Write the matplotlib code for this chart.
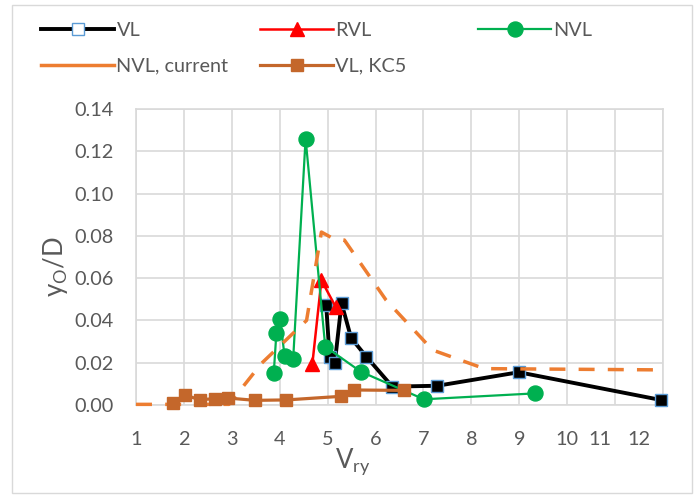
import matplotlib
matplotlib.use("Agg")
import matplotlib.pyplot as plt
from matplotlib.lines import Line2D
from matplotlib.patches import Rectangle

# ---- data ----
vl_x = [4.97, 5.04, 5.15, 5.29, 5.49, 5.81, 6.35, 7.29, 8.99, 11.95]
vl_y = [0.0473, 0.0228, 0.0199, 0.0482, 0.0317, 0.0228, 0.0087, 0.0091, 0.0155, 0.0024]

rvl_x = [4.68, 4.87, 5.17]
rvl_y = [0.0192, 0.0590, 0.0463]

nvl_x = [3.875, 3.93, 4.01, 4.10, 4.28, 4.54, 4.95, 5.69, 7.01, 9.33]
nvl_y = [0.0150, 0.0339, 0.0405, 0.0233, 0.0216, 0.1260, 0.0276, 0.0158, 0.0027, 0.0055]

cur_x = [1.0, 2.94, 3.62, 4.56, 4.87, 5.11, 5.35, 6.22, 7.19, 8.27, 12.0]
cur_y = [0.0003, 0.0003, 0.0197, 0.0400, 0.0818, 0.0788, 0.0780, 0.0496, 0.0260, 0.0172, 0.0166]

kc5_x = [1.78, 2.02, 2.33, 2.65, 2.92, 3.48, 4.14, 5.28, 5.56, 6.60]
kc5_y = [0.0008, 0.0047, 0.0025, 0.0030, 0.0033, 0.0022, 0.0024, 0.0041, 0.0071, 0.0069]

x_ticks = list(range(1, 13))
x_labels = [str(t) for t in x_ticks]
y_ticks = [0.00, 0.02, 0.04, 0.06, 0.08, 0.10, 0.12, 0.14]
y_labels = ["%.2f" % t for t in y_ticks]

FONT = "Lato"
plt.rcParams["font.family"] = [FONT, "DejaVu Sans"]
plt.rcParams["mathtext.fontset"] = "custom"
plt.rcParams["mathtext.rm"] = FONT
plt.rcParams["mathtext.it"] = FONT + ":italic"

TXT = "#595959"
GRID = "#D9D9D9"
C_VL = "#000000"
C_VLE = "#5B9BD5"
C_RVL = "#FF0000"
C_NVL = "#00B050"
C_CUR = "#ED7D31"
C_KC5 = "#C4672B"
FS = 14.3

W, H = 699, 495
fig = plt.figure(figsize=(W / 100, H / 100), dpi=100)
ax = fig.add_axes([136 / W, 1 - 405 / H, (663 - 136) / W, (405 - 109) / H])

ax.plot(vl_x, vl_y, color=C_VL, lw=2.8, marker="s", ms=8.8, mfc="black",
        mec=C_VLE, mew=1.0, zorder=3, clip_on=False)
ax.plot(rvl_x, rvl_y, color=C_RVL, lw=1.8, marker="^", ms=10.5, mfc=C_RVL,
        mec=C_RVL, zorder=4, clip_on=False)
ax.plot(nvl_x, nvl_y, color=C_NVL, lw=1.6, marker="o", ms=10.8, mfc=C_NVL,
        mec=C_NVL, zorder=5, clip_on=False)
ax.plot(cur_x, cur_y, color=C_CUR, lw=2.5, ls=(0, (4.6, 3.8)), zorder=6,
        clip_on=False)
ax.plot(kc5_x, kc5_y, color=C_KC5, lw=2.3, marker="s", ms=9, mfc=C_KC5,
        mec=C_KC5, zorder=7, clip_on=False)

ax.set_xlim(1, 12)
ax.set_ylim(0, 0.14)
ax.set_xticks(x_ticks)
ax.set_xticklabels(x_labels[:10] + ["", ""])
ax.set_yticks(y_ticks)
ax.set_yticklabels(y_labels)
ax.tick_params(axis="both", length=0, colors=TXT, labelsize=FS)
ax.tick_params(axis="x", pad=19)
ax.tick_params(axis="y", pad=16)
# the last two x labels sit left of their grid lines in the reference
for lab, xpos in ((x_labels[10], 10.68), (x_labels[11], 11.5)):
    ax.text(xpos, -0.089, lab, transform=ax.get_xaxis_transform(),
            ha="center", va="top", fontsize=FS, color=TXT)

ax.grid(True, color=GRID, lw=1.2)
ax.set_axisbelow(True)
for s in ax.spines.values():
    s.set_color(GRID)
    s.set_linewidth(1.2)

fig.text(353 / W, 1 - 462 / H, r"$\mathregular{V_{ry}}$", ha="center",
         va="center", fontsize=18.5, color=TXT)
fig.text(55 / W, 1 - 267 / H, r"$\mathregular{y_{O}/D}$", ha="center",
         va="center", fontsize=18.5, color=TXT, rotation=90)

# legend, three columns placed individually
h_vl = Line2D([], [], color=C_VL, lw=2.8, marker="s", ms=8.8, mfc="white",
              mec=C_VLE, mew=1.0)
h_rvl = Line2D([], [], color=C_RVL, lw=1.8, marker="^", ms=10.5, mfc=C_RVL, mec=C_RVL)
h_nvl = Line2D([], [], color=C_NVL, lw=1.6, marker="o", ms=10.8, mfc=C_NVL, mec=C_NVL)
h_cur = Line2D([], [], color=C_CUR, lw=2.5)
h_kc5 = Line2D([], [], color=C_KC5, lw=2.3, marker="s", ms=9, mfc=C_KC5, mec=C_KC5)

common = dict(frameon=False, fontsize=FS, handlelength=3.7, handletextpad=0.1,
              borderpad=0, borderaxespad=0, labelspacing=0.95, loc="upper left",
              labelcolor=TXT)
top = 1 - 22 / H
fig.legend([h_vl, h_cur], ["VL", "NVL, current"],
           bbox_to_anchor=(41 / W, top), **common)
fig.legend([h_rvl, h_kc5], ["RVL", "VL, KC5"],
           bbox_to_anchor=(260 / W, top), **common)
fig.legend([h_nvl], ["NVL"],
           bbox_to_anchor=(478 / W, top), **common)

fig.patches.append(Rectangle((12 / W, 1 - 493 / H), 680 / W, 488 / H,
                             transform=fig.transFigure, fill=False,
                             edgecolor=GRID, lw=1.0))

fig.savefig("out.png", dpi=100)
